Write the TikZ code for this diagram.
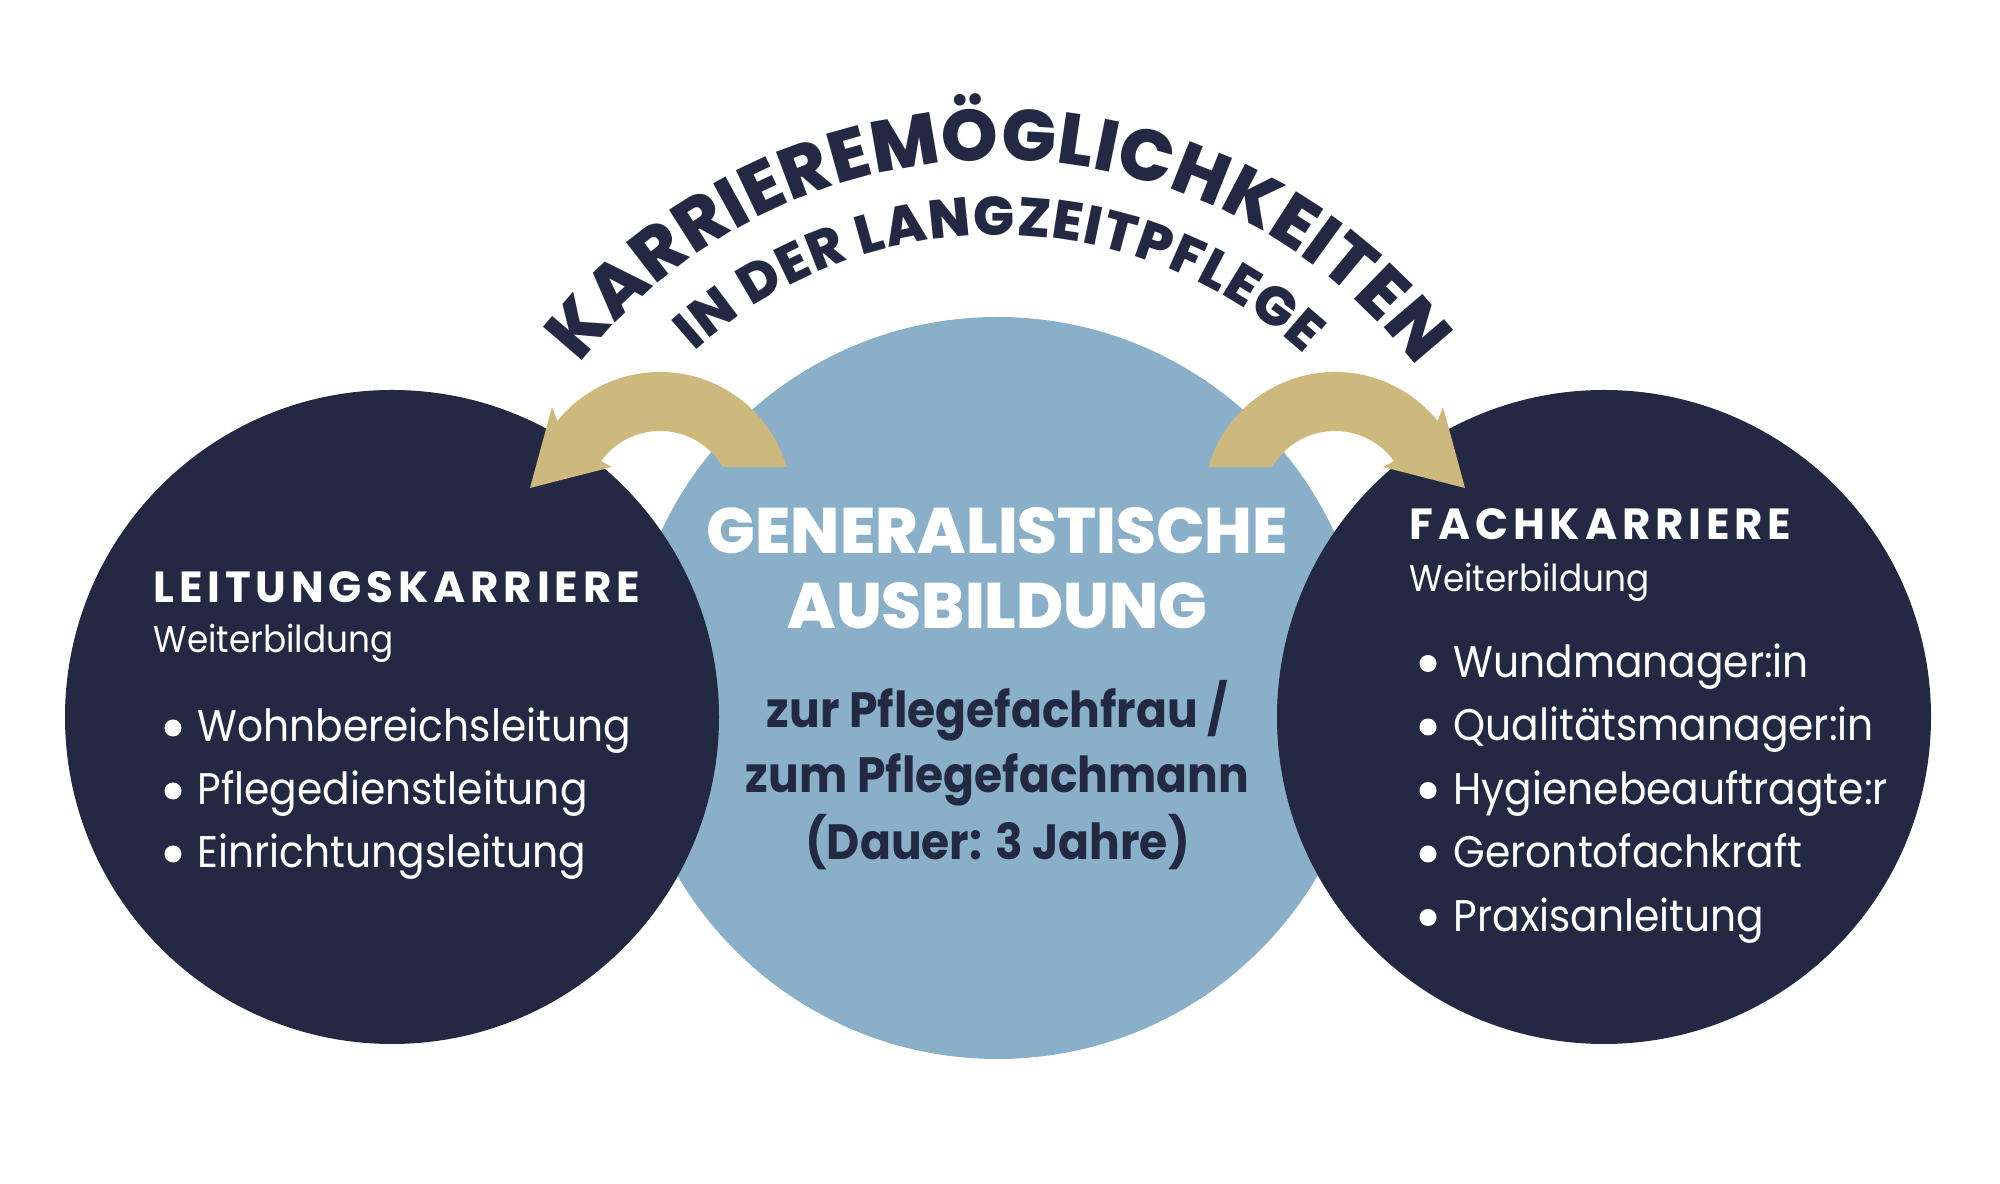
\documentclass[tikz,border=0pt]{standalone}
\usepackage{fontspec}
\setmainfont{Poppins}[FakeStretch=0.92]
\newfontfamily\heavyfont{Poppins ExtraBold}
\newfontfamily\spacedfont{Poppins}[LetterSpace=11]
\usetikzlibrary{calc,decorations.text}

\definecolor{ink}{HTML}{232943}
\definecolor{sky}{HTML}{89B0C8}
\definecolor{sand}{HTML}{CDB87E}

\newcommand\titlefont{\heavyfont\fontsize{20.6pt}{24pt}\selectfont}
\newcommand\subtitlefont{\heavyfont\fontsize{15.5pt}{18pt}\selectfont}
\newcommand\midfont{\heavyfont\fontsize{18.3pt}{22pt}\selectfont}
\newcommand\infofont{\bfseries\fontsize{14.1pt}{17pt}\selectfont}
\newcommand\headfont{\spacedfont\bfseries\fontsize{12.4pt}{14pt}\selectfont}
\newcommand\notefont{\fontsize{10.6pt}{12pt}\selectfont}
\newcommand\itemfont{\fontsize{12.6pt}{15pt}\selectfont}

\tikzset{
  bubble/.style={circle, fill=#1, inner sep=0pt},
  head/.style={anchor=base west, inner sep=0pt, text=white, font=\headfont},
  note/.style={anchor=base west, inner sep=0pt, text=white, font=\notefont},
  item/.style={anchor=base west, inner sep=0pt, text=white, font=\itemfont},
  centre/.style={anchor=base, inner sep=0pt},
}

\begin{document}
\begin{tikzpicture}
  \useasboundingbox (0,0) rectangle (20,11.84);

  % the three circles
  \node[bubble=sky, minimum size=7.42cm] (train) at (9.975,4.96) {};
  \node[bubble=ink, minimum size=6.54cm] (lead) at (3.92,4.67) {};
  \node[bubble=ink, minimum size=6.54cm] (spec) at (16.04,4.67) {};

  % arrows
  \coordinate (turnL) at ($(train)+(-3.375,1.84)$);
  \coordinate (turnR) at ($(train)+(3.375,1.84)$);
  \fill[sand] ($(turnL)+(16.3:1.32)$) arc[start angle=16.3, end angle=141, radius=1.32]
    -- ($(turnL)+(-1.08,0.97)$) -- ($(turnL)+(-1.30,0.16)$) -- ($(turnL)+(-0.48,0.37)$)
    -- ($(turnL)+(144:0.73)$) arc[start angle=144, end angle=30.5, radius=0.73] -- cycle;
  \fill[sand] ($(turnR)+(163.7:1.32)$) arc[start angle=163.7, end angle=39, radius=1.32]
    -- ($(turnR)+(1.08,0.97)$) -- ($(turnR)+(1.30,0.16)$) -- ($(turnR)+(0.48,0.37)$)
    -- ($(turnR)+(36:0.73)$) arc[start angle=36, end angle=149.5, radius=0.73] -- cycle;

  % title on the arcs
  \path[decorate, decoration={text along path, text align={fit to path}, text color=ink,
      text={|\titlefont|KARRIEREMÖGLICHKEITEN}}]
    ($(train)+(142.2:5.28)$) arc[start angle=142.2, end angle=37.5, radius=5.28];
  \path[decorate, decoration={text along path, text align={fit to path}, text color=ink,
      text={|\subtitlefont|IN DER LANGZEITPFLEGE}}]
    ($(train)+(132:4.53)$) arc[start angle=132, end angle=47.5, radius=4.53];

  % middle
  \node[centre, text=white, font=\midfont] (gen) at (9.975,6.30) {GENERALISTISCHE};
  \node[centre, text=white, font=\midfont] (aus) at (9.975,5.55) {AUSBILDUNG};
  \node[centre, text=ink, font=\infofont] (frau) at (9.975,4.56) {zur Pflegefachfrau /};
  \node[centre, text=ink, font=\infofont] (mann) at (9.975,3.91) {zum Pflegefachmann};
  \node[centre, text=ink, font=\infofont] (dauer) at (9.975,3.24) {(Dauer: 3 Jahre)};

  % left
  \node[head] (leadhead) at (1.53,5.81) {LEITUNGSKARRIERE};
  \node[note] (leadnote) at (1.53,5.31) {Weiterbildung};
  \foreach \txt [count=\i] in {Wohnbereichsleitung, Pflegedienstleitung, Einrichtungsleitung} {
    \node[item] (lead-\i) at (1.97,{5.05-0.63*\i}) {\txt};
    \fill[white] ($(lead-\i.base west)+(-0.24,0.14)$) circle (0.085);
  }

  % right
  \node[head] (spechead) at (14.09,6.44) {FACHKARRIERE};
  \node[note] (specnote) at (14.09,5.92) {Weiterbildung};
  \foreach \txt [count=\i] in {Wundmanager:in, Qualitätsmanager:in, Hygienebeauftragte:r,
      Gerontofachkraft, Praxisanleitung} {
    \node[item] (spec-\i) at (14.53,{5.70-0.635*\i}) {\txt};
    \fill[white] ($(spec-\i.base west)+(-0.25,0.14)$) circle (0.085);
  }
\end{tikzpicture}
\end{document}
